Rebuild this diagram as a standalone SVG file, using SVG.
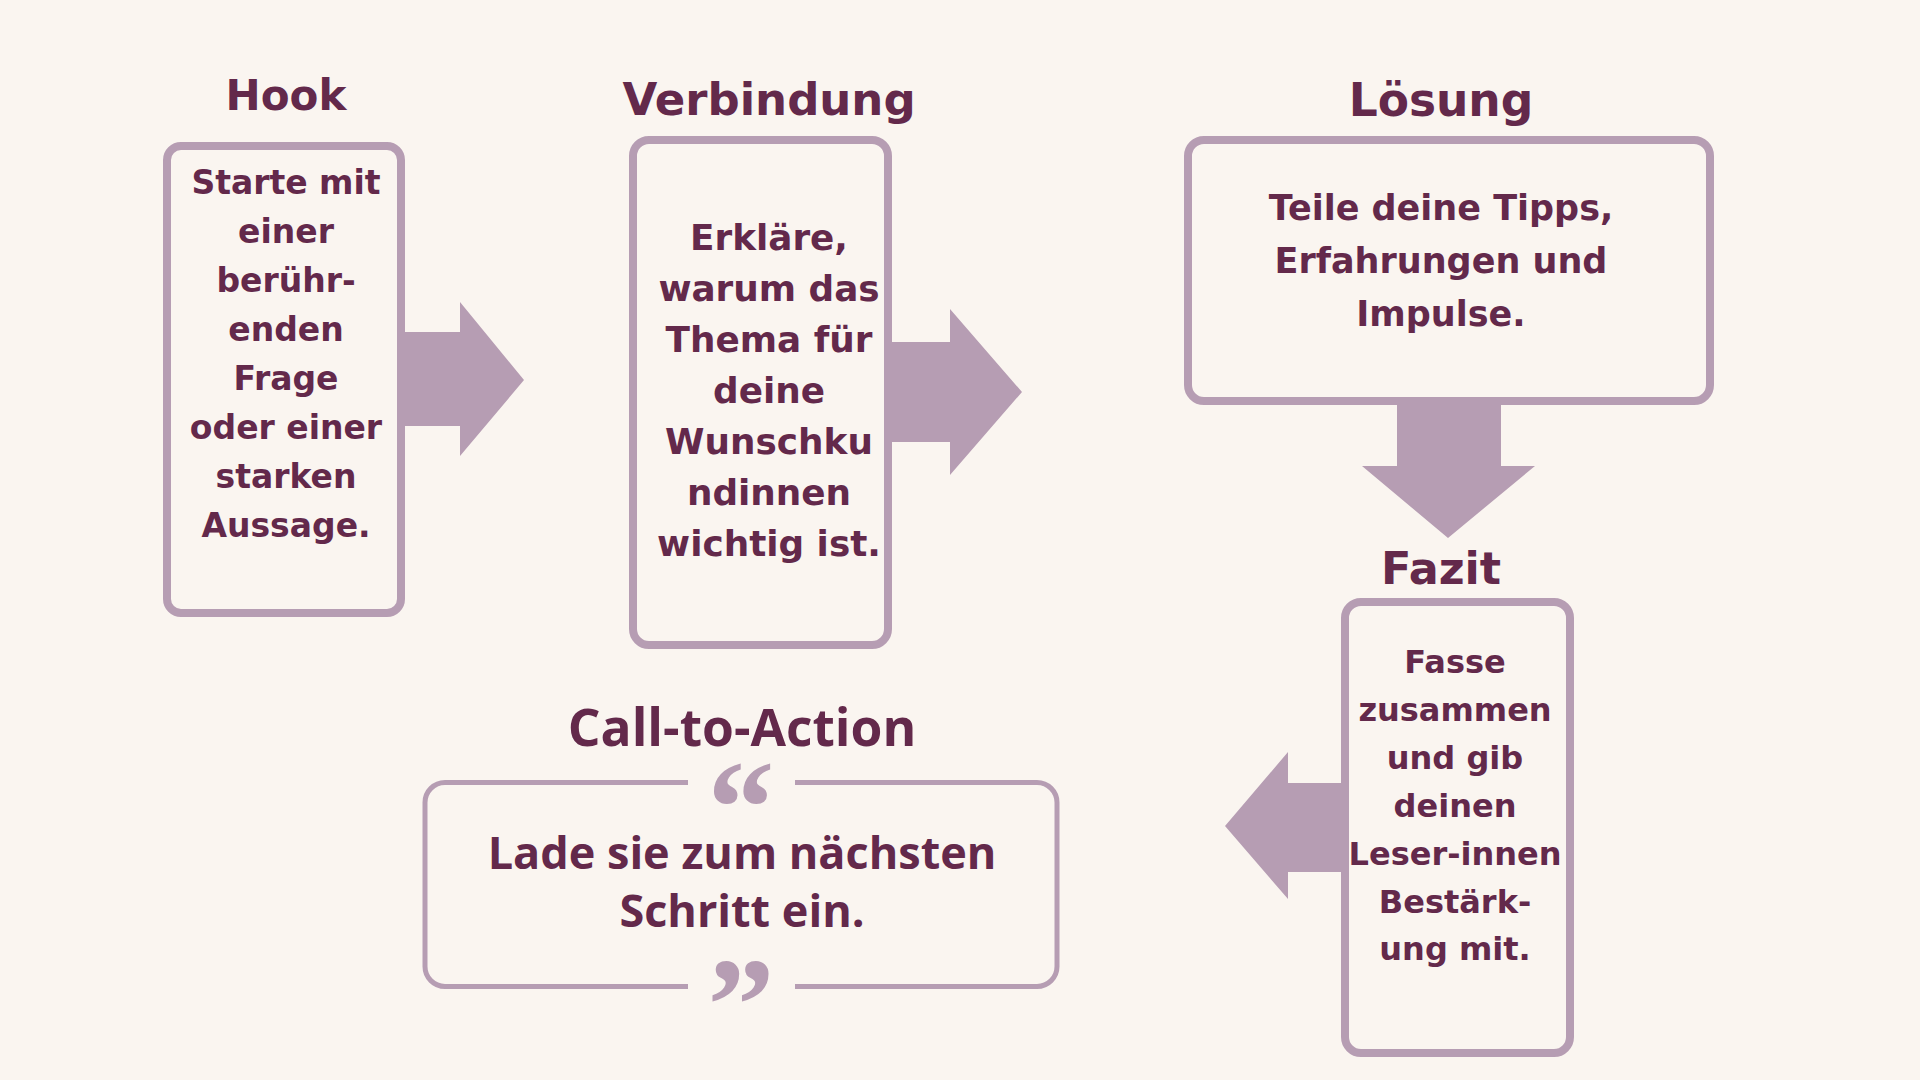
<svg xmlns="http://www.w3.org/2000/svg" width="1920" height="1080" viewBox="0 0 1920 1080">
<style>
.bg{fill:#faf5f0}
.box{fill:#faf5f0;stroke:#b69db3;stroke-width:8}
.arrow{fill:#b69db3}
.title{font-family:"DejaVu Sans",sans-serif;font-weight:bold;fill:#63294b;text-anchor:middle}
.body{font-family:"DejaVu Sans",sans-serif;font-weight:bold;fill:#63294b;text-anchor:middle}
.cta{font-family:"Open Sans",sans-serif;font-weight:bold;fill:#63294b;text-anchor:middle}
.quote{font-family:"Liberation Serif",serif;font-weight:bold;fill:#b69db3;text-anchor:middle;font-size:134px}
</style>
<rect class="bg" x="0" y="0" width="1920" height="1080"/>
<g id="connectors">
<polygon class="arrow" points="401,332 460,332 460,302 524,380 460,456 460,426 401,426"/>
<polygon class="arrow" points="888,342 950,342 950,309 1022,392 950,475 950,442 888,442"/>
<polygon class="arrow" points="1397,401 1501,401 1501,466 1535,466 1448,538 1362,466 1397,466"/>
<polygon class="arrow" points="1344,783 1288,783 1288,752 1225,826 1288,899 1288,872 1344,872"/>
</g>
<g id="hook">
<text class="title" x="286" y="110" font-size="42">Hook</text>
<rect class="box" x="167" y="146" width="234" height="467" rx="14"/>
<text class="body" font-size="33"><tspan x="286" y="194">Starte mit</tspan><tspan x="286" y="243">einer</tspan><tspan x="286" y="292">berühr-</tspan><tspan x="286" y="341">enden</tspan><tspan x="286" y="390">Frage</tspan><tspan x="286" y="439">oder einer</tspan><tspan x="286" y="488">starken</tspan><tspan x="286" y="537">Aussage.</tspan></text>
</g>
<g id="verbindung">
<text class="title" x="769" y="115" font-size="45">Verbindung</text>
<rect class="box" x="633" y="140" width="255" height="505" rx="16"/>
<text class="body" font-size="35.8"><tspan x="769" y="250">Erkläre,</tspan><tspan x="769" y="301">warum das</tspan><tspan x="769" y="352">Thema für</tspan><tspan x="769" y="403">deine</tspan><tspan x="769" y="454">Wunschku</tspan><tspan x="769" y="505">ndinnen</tspan><tspan x="769" y="556">wichtig ist.</tspan></text>
</g>
<g id="loesung">
<text class="title" x="1441" y="116" font-size="45.5">Lösung</text>
<rect class="box" x="1188" y="140" width="522" height="261" rx="16"/>
<text class="body" font-size="35"><tspan x="1441" y="220">Teile deine Tipps,</tspan><tspan x="1441" y="273">Erfahrungen und</tspan><tspan x="1441" y="326">Impulse.</tspan></text>
</g>
<g id="fazit">
<text class="title" x="1441" y="584" font-size="44.5">Fazit</text>
<rect class="box" x="1345" y="602" width="225" height="451" rx="16"/>
<text class="body" font-size="32"><tspan x="1455" y="673">Fasse</tspan><tspan x="1455" y="721">zusammen</tspan><tspan x="1455" y="769">und gib</tspan><tspan x="1455" y="817">deinen</tspan><tspan x="1455" y="865">Leser-innen</tspan><tspan x="1455" y="913">Bestärk-</tspan><tspan x="1455" y="960">ung mit.</tspan></text>
</g>
<g id="cta">
<text class="cta" x="742" y="746" font-size="51.5">Call-to-Action</text>
<path d="M688,782.5 H445 A20,20 0 0 0 425,802.5 V966.5 A20,20 0 0 0 445,986.5 H688 M795,782.5 H1037 A20,20 0 0 1 1057,802.5 V966.5 A20,20 0 0 1 1037,986.5 H795" fill="none" stroke="#b69db3" stroke-width="5"/>
<text class="quote" x="741" y="853">“</text>
<text class="quote" x="741" y="1050">”</text>
<text class="cta" font-size="45"><tspan x="742" y="869">Lade sie zum nächsten</tspan><tspan x="742" y="927">Schritt ein.</tspan></text>
</g>
</svg>
